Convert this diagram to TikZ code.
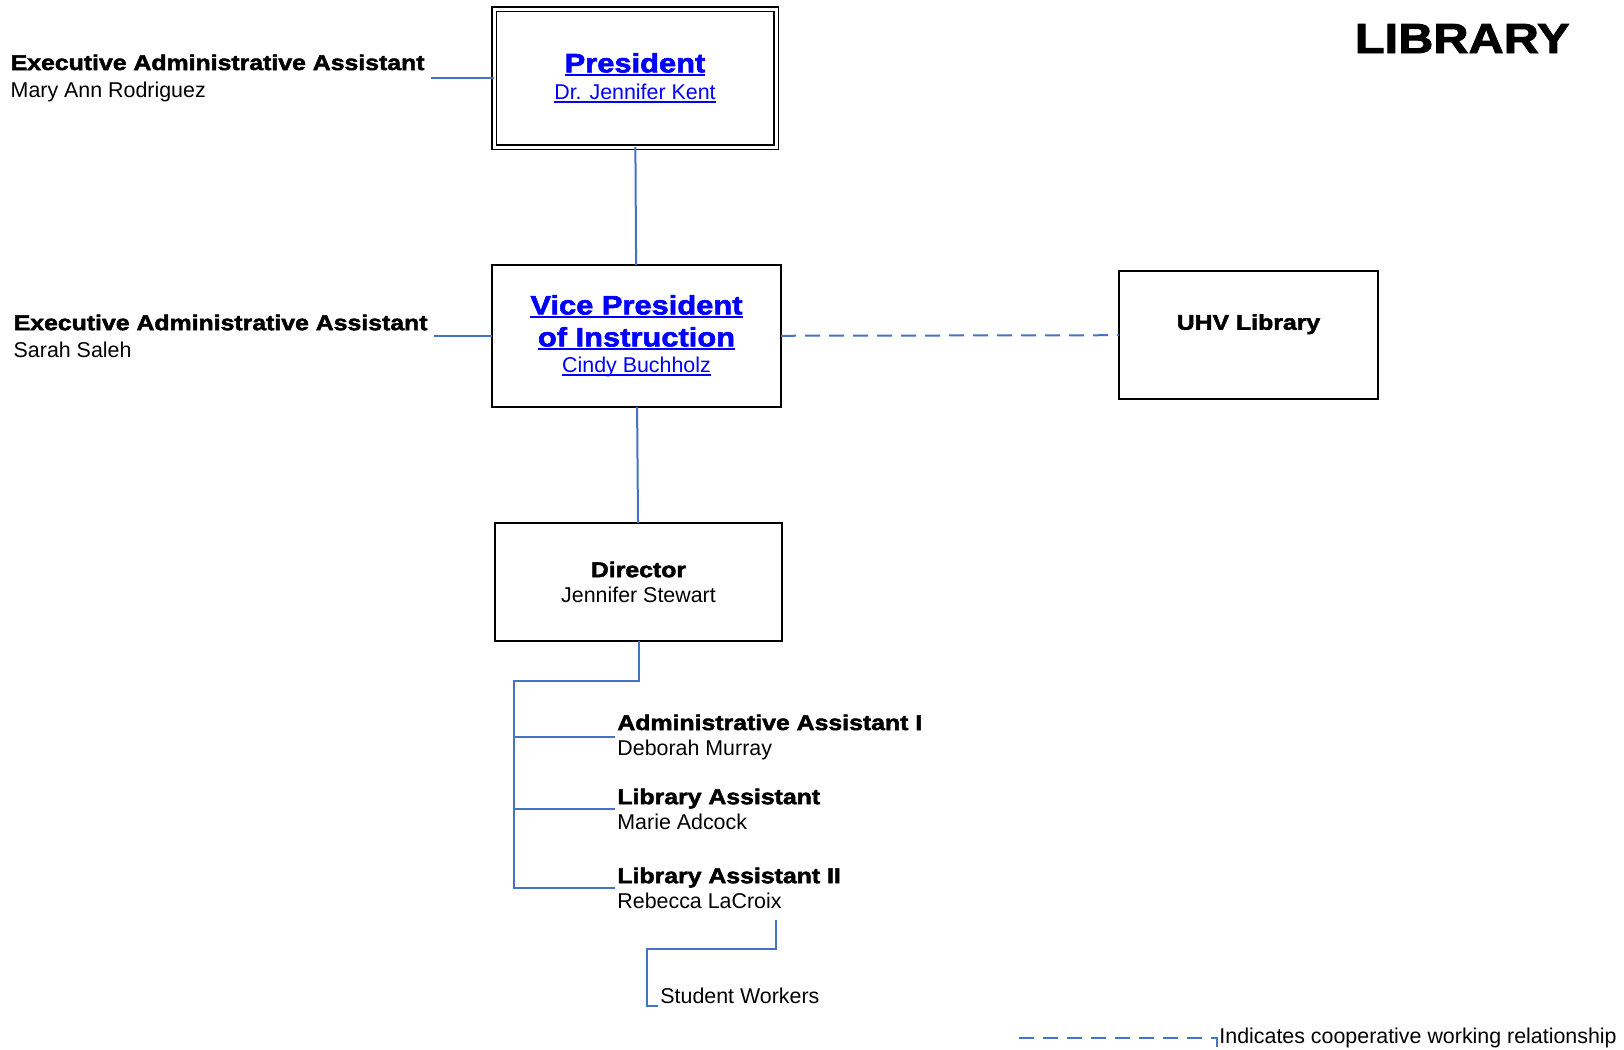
\documentclass[tikz,border=0pt]{standalone}
\usepackage{fontspec}
\setmainfont{Liberation Sans}
\newfontfamily\heavy[FakeStretch=1.16,FakeBold=2.2]{Liberation Sans}
\usepackage{tikz}
\usetikzlibrary{positioning}
\definecolor{linkblue}{RGB}{0,0,255}
\definecolor{lineblue}{RGB}{68,114,196}
\newcommand{\hd}[1]{{\heavy\bfseries #1}}
\newsavebox{\lnkbox}
\newcommand{\lnk}[1]{\sbox{\lnkbox}{#1}\rlap{\rule[-1.8pt]{\wd\lnkbox}{0.8pt}}\usebox{\lnkbox}}
\tikzstyle{office} = [rectangle, draw=black, line width=1.2pt, outer sep=0pt, align=center, font=\fontsize{10.7}{13}\selectfont]
\tikzstyle{topoffice} = [office, double, double distance=1.5pt, line width=0.9pt]
\tikzstyle{staff} = [align=left, inner sep=1pt, font=\fontsize{10.7}{13}\selectfont]
\tikzstyle{link} = [draw=lineblue, line width=1pt]
\tikzstyle{coop} = [link, dash pattern=on 7.5pt off 4.5pt]

\begin{document}
\begin{tikzpicture}
\useasboundingbox (0,0) rectangle (812pt,-525pt);

% --- Title ---
\node (title) [anchor=base east, inner sep=0pt, font=\fontsize{21}{24}\selectfont] at (785pt,-26.5pt) {\hd{LIBRARY}};

% --- Offices ---
\node (pres) [topoffice, text=linkblue, minimum width=141pt, minimum height=69pt] at (317.5pt,-39pt) {\lnk{\fontsize{13.3}{16}\selectfont\hd{President}}\\[0.5pt] \lnk{Dr. Jennifer Kent}};
\node (vp) [office, text=linkblue, minimum width=144.5pt, minimum height=71pt, below=59pt of pres, xshift=0.75pt] {\lnk{\fontsize{13.3}{16}\selectfont\hd{Vice President}}\\[3pt] \lnk{\fontsize{13.3}{16}\selectfont\hd{of Instruction}}\\ \lnk{Cindy Buchholz}};
\node (uhv) [office, minimum width=129.5pt, minimum height=64pt, right=169pt of vp, yshift=0.5pt] {\hd{UHV Library}\\ \mbox{}};
\node (dir) [office, minimum width=143.5pt, minimum height=59pt, below=58pt of vp, xshift=1pt] {\hd{Director}\\[-0.5pt] Jennifer Stewart};

% --- Executive assistants ---
\node (ea1) [staff, inner xsep=3pt, left=31.5pt of pres] {\hd{Executive Administrative Assistant}\\[0.5pt] Mary Ann Rodriguez};
\node (ea2) [staff, inner xsep=3pt, left=29pt of vp] {\hd{Executive Administrative Assistant}\\[0.5pt] Sarah Saleh};

% --- Library staff ---
\node (aa) [staff, anchor=west] at ([shift={(-11.75pt,-48pt)}]dir.south) {\hd{Administrative Assistant I}\\[-0.5pt] Deborah Murray};
\node (la) [staff, anchor=west] at ([shift={(-11.75pt,-84pt)}]dir.south) {\hd{Library Assistant}\\[-0.5pt] Marie Adcock};
\node (la2) [staff, anchor=west] at ([shift={(-11.75pt,-123.5pt)}]dir.south) {\hd{Library Assistant II}\\[-0.5pt] Rebecca LaCroix};
\coordinate (trunk) at ([shift={(-62.25pt,-20pt)}]dir.south);
\coordinate (swtop) at ([shift={(80.5pt,-16pt)}]la2.west);
\node (sw) [staff, anchor=south west] at ([shift={(-59pt,-43pt)}]swtop) {Student Workers};

% --- Legend ---
\node (legend) [staff, anchor=west] at (608.5pt,-519pt) {Indicates cooperative working relationship};

% --- Connectors ---
\draw [link] (ea1.east) -- (pres.west);
\draw [link] (ea2.east) -- (vp.west);
\draw [link] (pres) -- (vp);
\draw [link] (vp) -- (dir);
\draw [coop] (vp) -- (uhv);
\draw [link] (dir.south) |- (trunk) |- (la2.west);
\draw [link] (trunk) |- (aa.west);
\draw [link] (trunk) |- (la.west);
\draw [link] (swtop) -- ++(0,-14.5pt) -| ([xshift=-5.5pt]sw.south west) -- (sw.south west);
\draw [coop] ([xshift=-99pt]legend.west) -- (legend.west) -- ++(0,-6pt);

\end{tikzpicture}
\end{document}
